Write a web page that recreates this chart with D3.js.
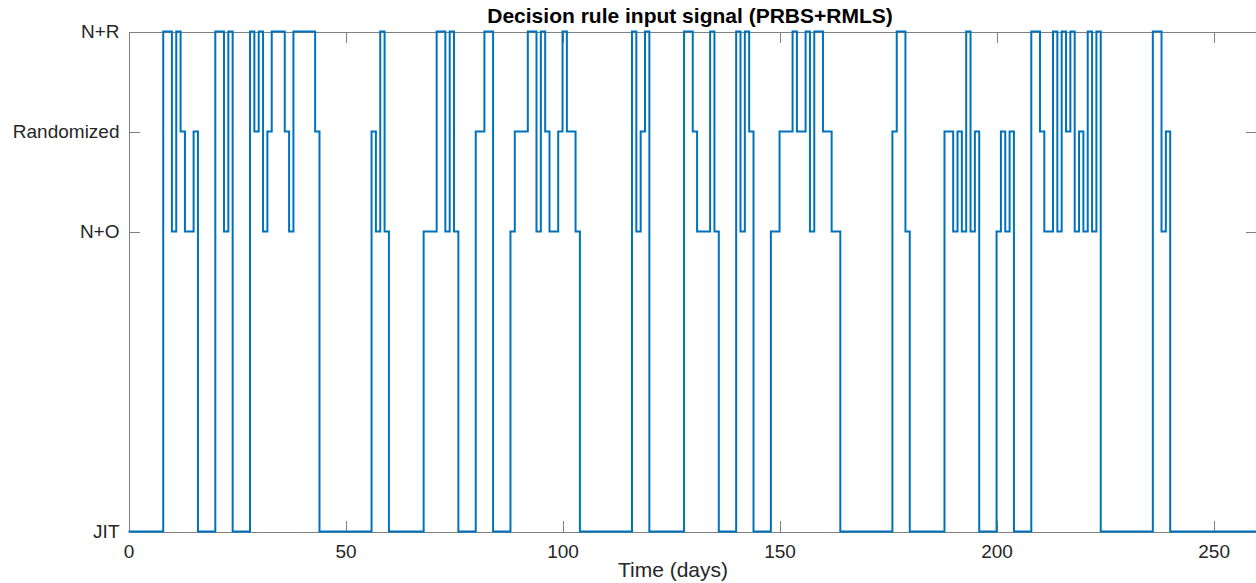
<!DOCTYPE html>
<html>
<head>
<meta charset="utf-8">
<script src="https://cdn.jsdelivr.net/npm/d3@7"></script>
<style>
  body { margin: 0; background: #fff; }
  svg { display: block; font-family: "Liberation Sans", Arial, Helvetica, sans-serif; }
  .axis path, .axis line { stroke: #808080; shape-rendering: crispEdges; }
  .axis text { fill: #262626; font-size: 19px; }
</style>
</head>
<body>
<script>
// level names on the y axis and their position
var levelNames = ["JIT", "N+O", "Randomized", "N+R"];
var levelValues = [0, 3, 4, 5];

// x ticks
var xTicks = [0, 50, 100, 150, 200, 250];
var xMax = 260;

// day at which the signal switches, and the level it switches to
var changeDays = [0, 8, 10, 11, 12, 13, 15, 16, 20, 22, 23, 24, 28, 29, 30, 31, 32, 33, 36, 37, 38, 43, 44,
  56, 57, 58, 59, 60, 68, 71, 73, 74, 75, 76, 80, 82, 84, 88, 89, 92, 94, 95, 96, 97, 99, 100, 101, 103, 104,
  116, 117, 118, 119, 120, 128, 130, 131, 134, 135, 136, 140, 141, 142, 143, 144, 148, 150, 153, 154, 156,
  157, 158, 160, 162, 164, 176, 177, 179, 180, 188, 190, 191, 192, 193, 194, 195, 196, 200, 201, 202, 203,
  204, 208, 210, 211, 213, 214, 215, 216, 217, 218, 219, 220, 221, 222, 223, 224, 236, 238, 239, 240];
var changeLevels = ["JIT", "N+R", "N+O", "N+R", "Randomized", "N+O", "Randomized", "JIT",
  "N+R", "N+O", "N+R", "JIT",
  "N+R", "Randomized", "N+R", "N+O", "Randomized", "N+R", "Randomized", "N+O", "N+R", "Randomized", "JIT",
  "Randomized", "N+O", "N+R", "N+O", "JIT",
  "N+O", "N+R", "N+O", "N+R", "N+O", "JIT",
  "Randomized", "N+R", "JIT",
  "N+O", "Randomized", "N+R", "N+O", "N+R", "Randomized", "N+O", "Randomized", "N+R", "Randomized", "N+O", "JIT",
  "N+R", "N+O", "Randomized", "N+R", "JIT",
  "N+R", "Randomized", "N+O", "N+R", "N+O", "JIT",
  "N+R", "N+O", "N+R", "Randomized", "JIT",
  "N+O", "Randomized", "N+R", "Randomized", "N+R", "N+O", "N+R", "Randomized", "N+O", "JIT",
  "Randomized", "N+R", "N+O", "JIT",
  "Randomized", "N+O", "Randomized", "N+O", "N+R", "N+O", "Randomized", "JIT",
  "N+O", "Randomized", "N+O", "Randomized", "JIT",
  "N+R", "Randomized", "N+O", "N+R", "N+O", "N+R", "Randomized", "N+R", "N+O", "Randomized", "N+O", "N+R", "N+O", "N+R", "JIT",
  "N+R", "N+O", "Randomized", "JIT"];

var W = 1256, H = 583;
var plotLeft = 128.5, plotRight = 1257, plotTop = 31.5, plotBottom = 531.5;

var svg = d3.select("body").append("svg")
    .attr("width", W)
    .attr("height", H);

var x = d3.scaleLinear().domain([0, xMax]).range([plotLeft, plotRight]);
var y = d3.scaleLinear().domain([0, 5]).range([plotBottom, plotTop]);
var levelOf = function(name) { return levelValues[levelNames.indexOf(name)]; };

// axes, ticks pointing inwards on all four sides
svg.append("g")
    .attr("class", "axis")
    .attr("transform", "translate(0," + plotBottom + ")")
    .call(d3.axisBottom(x).tickValues(xTicks).tickSizeInner(-11).tickSizeOuter(0).tickPadding(13));
svg.append("g")
    .attr("class", "axis")
    .attr("transform", "translate(0," + plotTop + ")")
    .call(d3.axisTop(x).tickValues(xTicks).tickSizeInner(-11).tickSizeOuter(0).tickFormat(""));
svg.append("g")
    .attr("class", "axis")
    .attr("transform", "translate(" + plotLeft + ",0)")
    .call(d3.axisLeft(y).tickValues(levelValues).tickSizeInner(-11).tickSizeOuter(0).tickPadding(9)
      .tickFormat(function(d) { return levelNames[levelValues.indexOf(d)]; }));
svg.append("g")
    .attr("class", "axis")
    .attr("transform", "translate(" + plotRight + ",0)")
    .call(d3.axisRight(y).tickValues(levelValues).tickSizeInner(-11).tickSizeOuter(0).tickFormat(""));

// the signal as a stair line
var pts = changeDays.map(function(d, i) { return [d, levelOf(changeLevels[i])]; });
pts.push([xMax, levelOf(changeLevels[changeLevels.length - 1])]);

var line = d3.line()
    .x(function(d) { return x(d[0]); })
    .y(function(d) { return y(d[1]); })
    .curve(d3.curveStepAfter);

svg.append("path")
    .datum(pts)
    .attr("fill", "none")
    .attr("stroke", "#0072BD")
    .attr("stroke-width", 2)
    .attr("d", line);

// title and x label
svg.append("text")
    .text("Decision rule input signal (PRBS+RMLS)")
    .attr("x", 690)
    .attr("y", 23)
    .attr("text-anchor", "middle")
    .style("font-size", "21px")
    .style("font-weight", "bold")
    .style("fill", "#000");

svg.append("text")
    .text("Time (days)")
    .attr("x", 673)
    .attr("y", 577)
    .attr("text-anchor", "middle")
    .style("font-size", "21px")
    .style("fill", "#262626");
</script>
</body>
</html>
